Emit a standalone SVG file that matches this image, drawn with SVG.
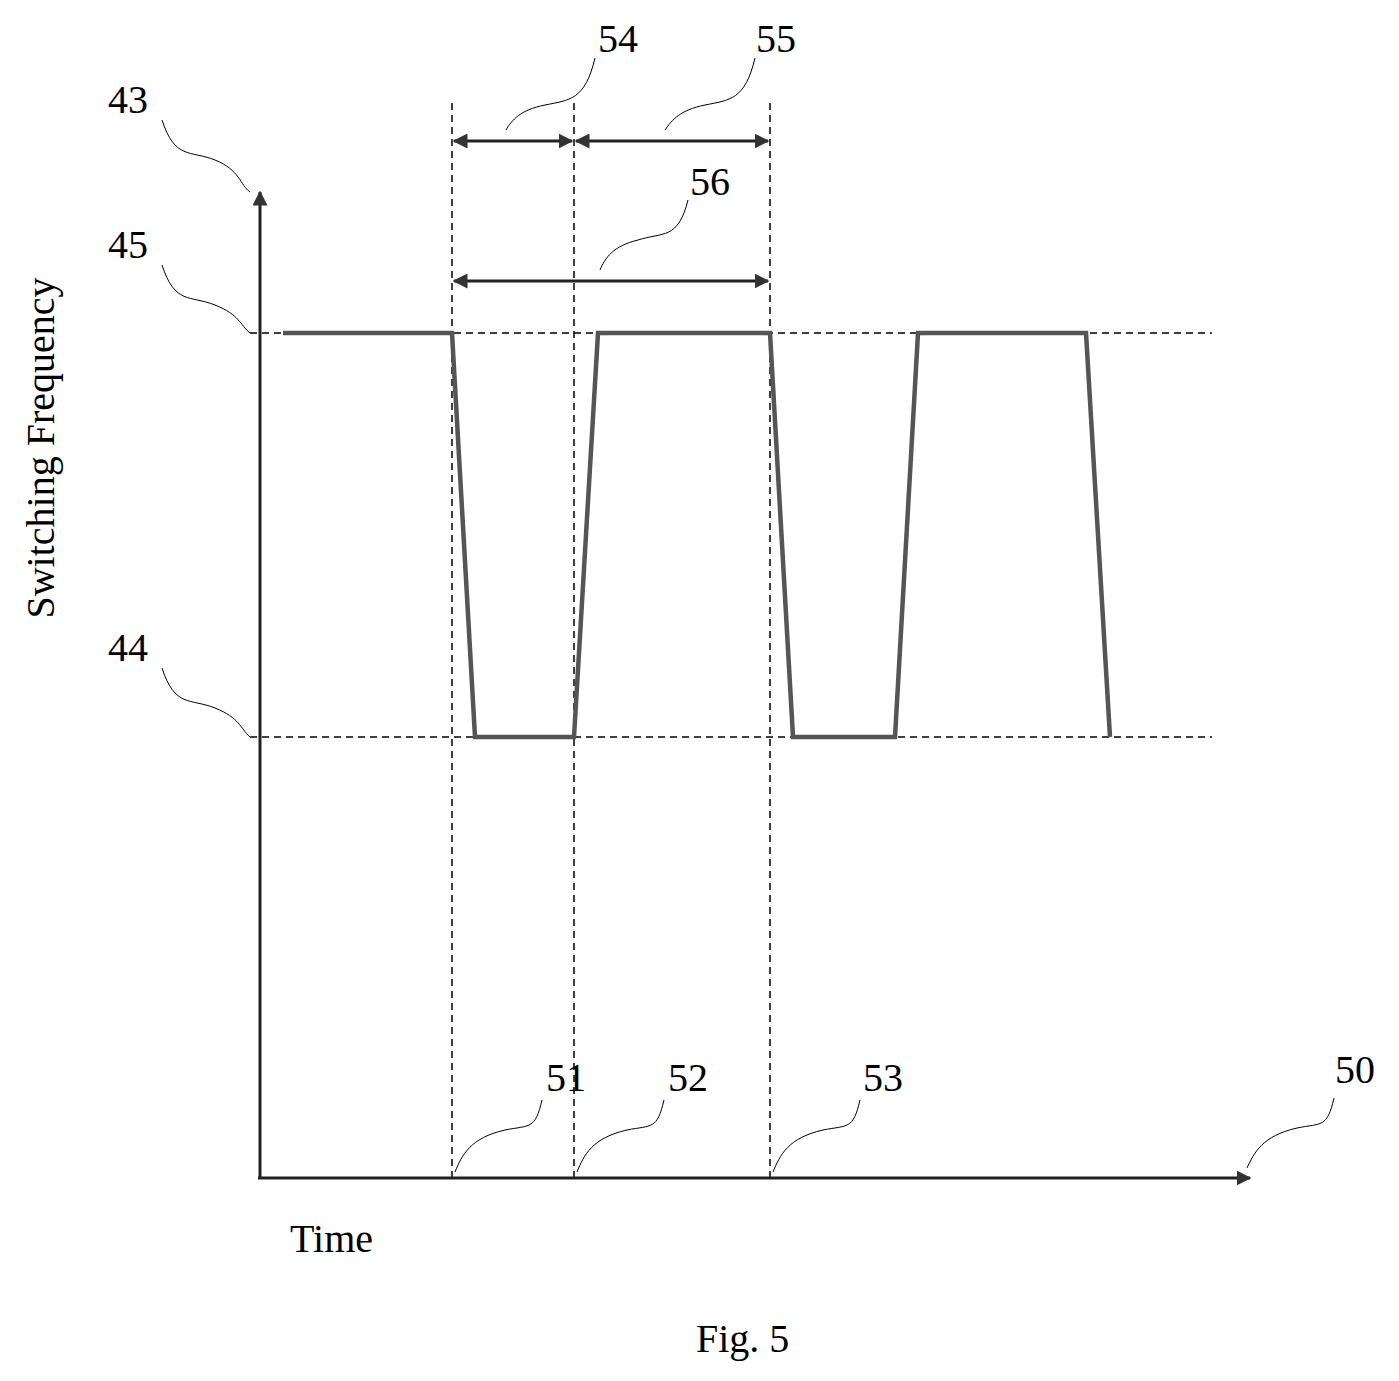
<svg xmlns="http://www.w3.org/2000/svg" width="1399" height="1381" viewBox="0 0 1399 1381">
<style>
text{font-family:"Liberation Serif",serif;font-size:40px;fill:#000}
.dash{stroke:#000;stroke-width:1.5;stroke-dasharray:7,5;fill:none}
.lead{stroke:#000;stroke-width:1;fill:none}
.ax{stroke:#222;stroke-width:3;fill:none}
.wave{stroke:#555;stroke-width:4.5;fill:none;stroke-linejoin:miter}
</style>
<defs>
<marker id="ah" viewBox="0 0 10 10" refX="9" refY="5" markerWidth="5" markerHeight="5" orient="auto-start-reverse" markerUnits="strokeWidth">
<path d="M0,0 L10,5 L0,10 z" fill="#333"/>
</marker>
</defs>
<rect width="1399" height="1381" fill="#fff"/>
<g id="guides">
<line class="dash" x1="250" y1="333" x2="1212" y2="333"/>
<line class="dash" x1="250" y1="737" x2="1212" y2="737"/>
<line class="dash" x1="452" y1="103" x2="452" y2="1178"/>
<line class="dash" x1="574" y1="103" x2="574" y2="1178"/>
<line class="dash" x1="770" y1="103" x2="770" y2="1178"/>
</g>
<g id="axes">
<line class="ax" x1="260" y1="1178" x2="260" y2="192" marker-end="url(#ah)"/>
<line class="ax" x1="258" y1="1178" x2="1250" y2="1178" marker-end="url(#ah)"/>
</g>
<g id="waveform">
<path class="wave" d="M283,333 L452,333 L475,737 L574,737 L598,333 L770,333 L793,737 L895,737 L918,333 L1086,333 L1110,737"/>
</g>
<g id="connectors">
<line class="ax" x1="454" y1="141" x2="572" y2="141" marker-start="url(#ah)" marker-end="url(#ah)"/>
<line class="ax" x1="576" y1="141" x2="768" y2="141" marker-start="url(#ah)" marker-end="url(#ah)"/>
<line class="ax" x1="454" y1="281" x2="768" y2="281" marker-start="url(#ah)" marker-end="url(#ah)"/>
<path class="lead" d="M162,120 C175,160 190,150 215,160 C240,170 240,185 250,192"/>
<path class="lead" d="M162,265 C175,305 190,295 215,305 C240,315 240,325 250,333"/>
<path class="lead" d="M162,668 C175,708 190,698 215,708 C240,718 240,728 250,737"/>
<path class="lead" d="M595,58 C585,100 570,100 545,105 C520,110 512,120 506,130"/>
<path class="lead" d="M755,58 C745,100 730,100 705,105 C680,110 672,120 665,130"/>
<path class="lead" d="M688,200 C678,240 663,232 638,240 C613,246 605,258 600,270"/>
<path class="lead" d="M542,1100 C535,1130 530,1125 505,1130 C470,1138 462,1155 455,1172"/>
<path class="lead" d="M664,1100 C657,1130 652,1125 627,1130 C592,1138 584,1155 577,1172"/>
<path class="lead" d="M860,1100 C853,1130 848,1125 823,1130 C788,1138 780,1155 773,1172"/>
<path class="lead" d="M1334,1098 C1327,1128 1322,1123 1297,1128 C1262,1136 1254,1153 1247,1168"/>
</g>
<g id="labels">
<text x="108" y="113">43</text>
<text x="108" y="258">45</text>
<text x="108" y="661">44</text>
<text x="598" y="52">54</text>
<text x="756" y="52">55</text>
<text x="690" y="195">56</text>
<text x="546" y="1091">51</text>
<text x="668" y="1091">52</text>
<text x="863" y="1091">53</text>
<text x="1335" y="1083">50</text>
<text x="290" y="1252">Time</text>
<text x="696" y="1352">Fig. 5</text>
<text transform="translate(54,448) rotate(-90)" text-anchor="middle">Switching Frequency</text>
</g>
</svg>
